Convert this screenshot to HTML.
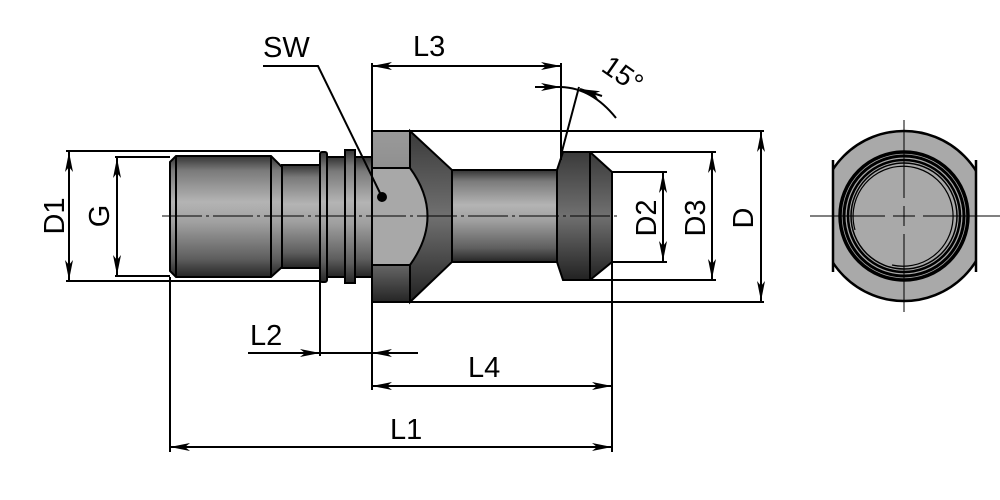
<!DOCTYPE html>
<html><head><meta charset="utf-8"><style>
html,body{margin:0;padding:0;background:#fff}
svg{display:block}
text{font-family:"Liberation Sans",sans-serif;font-size:29px;fill:#000}
</style></head><body>
<svg width="1000" height="500" viewBox="0 0 1000 500" xmlns="http://www.w3.org/2000/svg">
<defs>
<linearGradient id="cyl" x1="0" y1="0" x2="0" y2="1">
<stop offset="0" stop-color="#333"/><stop offset="0.12" stop-color="#7a7a7a"/><stop offset="0.38" stop-color="#b4b4b4"/><stop offset="0.55" stop-color="#a0a0a0"/><stop offset="0.85" stop-color="#5e5e5e"/><stop offset="1" stop-color="#252525"/>
</linearGradient>
<linearGradient id="dark" x1="0" y1="0" x2="0" y2="1">
<stop offset="0" stop-color="#3a3a3a"/><stop offset="0.5" stop-color="#707070"/><stop offset="1" stop-color="#222"/>
</linearGradient>
<linearGradient id="hexg" x1="0" y1="0" x2="0" y2="1">
<stop offset="0" stop-color="#9a9a9a"/><stop offset="1" stop-color="#6a6a6a"/>
</linearGradient>
<linearGradient id="hexb" x1="0" y1="0" x2="0" y2="1">
<stop offset="0" stop-color="#666"/><stop offset="1" stop-color="#252525"/>
</linearGradient>
<marker id="ar" viewBox="0 0 20 10" refX="20" refY="5" markerWidth="20" markerHeight="10" markerUnits="userSpaceOnUse" orient="auto-start-reverse">
<path d="M0,1 L20,5 L0,9 L5,5 Z" fill="#000"/>
</marker>
</defs>
<g stroke="#000" stroke-width="2">
<path d="M170,162 L176,156 L271,156 L282,167 L282,267 L271,277 L176,277 L170,271 Z" fill="url(#cyl)"/>
<line x1="176" y1="156" x2="176" y2="277"/>
<line x1="271" y1="156" x2="271" y2="277"/>
<rect x="282" y="165" width="40" height="103" fill="url(#cyl)"/>
<rect x="320" y="152" width="7" height="130" fill="url(#cyl)" rx="2"/>
<rect x="327" y="157" width="18" height="120" fill="url(#cyl)"/>
<rect x="345" y="150" width="10" height="133" fill="url(#cyl)"/>
<rect x="355" y="157" width="17" height="120" fill="url(#cyl)"/>
<rect x="372" y="131" width="38" height="171" fill="url(#hexg)"/>
<rect x="372" y="265" width="38" height="37" fill="url(#hexb)"/>
<path d="M410,131 L452,170 L452,262 L410,302 Z" fill="url(#dark)"/>
<path d="M372,168 L410,168 Q445,216 410,265 L372,265 Z" fill="#a8a8a8"/>
<rect x="452" y="170" width="106" height="92" fill="url(#cyl)"/>
<path d="M563,152 L590,152 L612,172 L612,262 L590,280 L563,280 L557,262 L557,170 Z" fill="url(#dark)"/>
<line x1="590" y1="152" x2="590" y2="280"/>
</g>
<circle cx="382" cy="197" r="5" fill="#000"/>
<line x1="162" y1="216" x2="620" y2="216" stroke="#000" stroke-width="1" stroke-dasharray="40,4,3,4"/>
<g stroke="#000" stroke-width="2" fill="none">
<line x1="66" y1="151" x2="320" y2="151"/>
<line x1="66" y1="281" x2="320" y2="281"/>
<line x1="115" y1="157" x2="170" y2="157"/>
<line x1="115" y1="276" x2="170" y2="276"/>
<line x1="410" y1="131" x2="764" y2="131"/>
<line x1="410" y1="302" x2="764" y2="302"/>
<line x1="590" y1="152" x2="716" y2="152"/>
<line x1="590" y1="280" x2="716" y2="280"/>
<line x1="612" y1="172" x2="667" y2="172"/>
<line x1="612" y1="262" x2="667" y2="262"/>
<line x1="170" y1="277" x2="170" y2="452"/>
<line x1="320" y1="282" x2="320" y2="356"/>
<line x1="372" y1="302" x2="372" y2="390"/>
<line x1="372" y1="63" x2="372" y2="131"/>
<line x1="612" y1="262" x2="612" y2="452"/>
<line x1="561" y1="63" x2="561" y2="160"/>
<line x1="561" y1="155" x2="579" y2="87"/>
<line x1="69" y1="152" x2="69" y2="280" marker-start="url(#ar)" marker-end="url(#ar)"/>
<line x1="117" y1="158" x2="117" y2="275" marker-start="url(#ar)" marker-end="url(#ar)"/>
<line x1="663" y1="173" x2="663" y2="261" marker-start="url(#ar)" marker-end="url(#ar)"/>
<line x1="712" y1="153" x2="712" y2="279" marker-start="url(#ar)" marker-end="url(#ar)"/>
<line x1="761" y1="132" x2="761" y2="301" marker-start="url(#ar)" marker-end="url(#ar)"/>
<line x1="372" y1="66" x2="561" y2="66" marker-start="url(#ar)" marker-end="url(#ar)"/>
<line x1="372" y1="386" x2="612" y2="386" marker-start="url(#ar)" marker-end="url(#ar)"/>
<line x1="170" y1="447" x2="612" y2="447" marker-start="url(#ar)" marker-end="url(#ar)"/>
<line x1="248" y1="353" x2="320" y2="353" marker-end="url(#ar)"/>
<line x1="320" y1="353" x2="372" y2="353"/>
<line x1="418" y1="353" x2="372" y2="353" marker-end="url(#ar)"/>
<line x1="535" y1="87" x2="561" y2="87" marker-end="url(#ar)"/>
<path d="M561,87 Q592,88 616,118"/>
<line x1="602" y1="96" x2="580" y2="89" marker-end="url(#ar)"/>
<polyline points="263,66 318,66 382,197"/>
</g>
<text x="263" y="57">SW</text>
<text x="413" y="56">L3</text>
<text x="250" y="345">L2</text>
<text x="468" y="377">L4</text>
<text x="390" y="439">L1</text>
<text transform="translate(600,70) rotate(35)" style="font-size:28px">15°</text>
<text transform="translate(64,216) rotate(-90)" text-anchor="middle">D1</text>
<text transform="translate(109,216) rotate(-90)" text-anchor="middle">G</text>
<text transform="translate(656,218) rotate(-90)" text-anchor="middle">D2</text>
<text transform="translate(705,218) rotate(-90)" text-anchor="middle">D3</text>
<text transform="translate(753,218) rotate(-90)" text-anchor="middle">D</text>
<clipPath id="cp"><rect x="833" y="120" width="143" height="200"/></clipPath>
<circle cx="904" cy="216" r="85" fill="#a9a9a9" stroke="#000" stroke-width="2.5" clip-path="url(#cp)"/>
<line x1="833" y1="160" x2="833" y2="272" stroke="#000" stroke-width="2.5"/>
<line x1="976" y1="160" x2="976" y2="272" stroke="#000" stroke-width="2.5"/>
<g fill="none" stroke="#000">
<circle cx="904" cy="216" r="64" stroke-width="3.5"/>
<circle cx="904" cy="216" r="60" stroke-width="3"/>
<circle cx="904" cy="216" r="56" stroke-width="2.5"/>
<circle cx="904" cy="216" r="53" stroke-width="1.5"/>
<path d="M855,230 A50,50 0 1 1 892,265" stroke-width="1.2"/>
</g>
<g stroke="#000" stroke-width="1">
<line x1="810" y1="216" x2="885" y2="216"/><line x1="893" y1="216" x2="915" y2="216"/><line x1="923" y1="216" x2="1000" y2="216"/>
<line x1="904" y1="120" x2="904" y2="198"/><line x1="904" y1="206" x2="904" y2="226"/><line x1="904" y1="234" x2="904" y2="312"/>
</g>
</svg>
</body></html>
